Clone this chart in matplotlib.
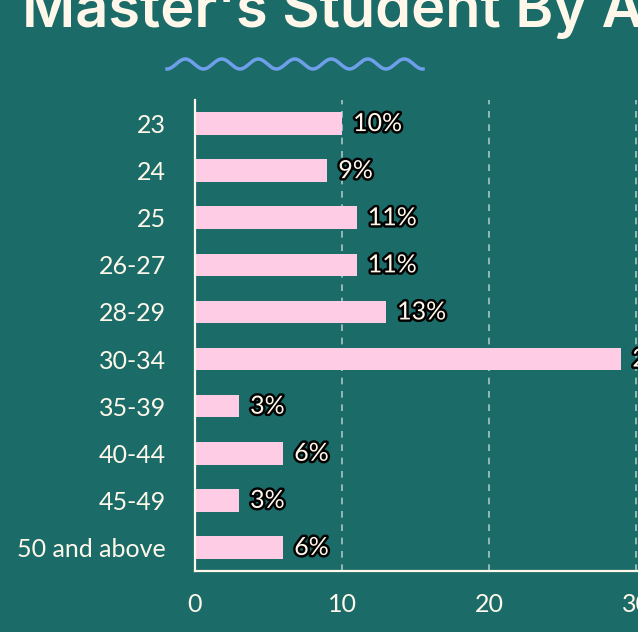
import matplotlib
matplotlib.use("Agg")
import matplotlib.pyplot as plt
import matplotlib.patheffects as pe
import numpy as np

categories = ["23", "24", "25", "26-27", "28-29", "30-34", "35-39", "40-44", "45-49", "50 and above"]
values = [10, 9, 11, 11, 13, 29, 3, 6, 3, 6]
xticks = [0, 10, 20, 30]
title = "Master's Student By Age"

BG = "#1B6C68"
PINK = "#FFCCE5"
CREAM = "#FFF8EA"

W, H = 638, 632
fig = plt.figure(figsize=(W / 100, H / 100), dpi=100, facecolor=BG)

# axes in pixel coordinates: left 195, right extends beyond the figure
left, top, bottom = 195, 100, 571
xmax = 32
px_per_unit = (636 - 195) / 30
right = left + xmax * px_per_unit
ax = fig.add_axes([left / W, 1 - bottom / H, (right - left) / W, (bottom - top) / H])
ax.set_facecolor(BG)

y = np.arange(len(categories))
ax.barh(y, values, height=0.48, color=PINK, zorder=3)
ax.set_ylim(len(categories) - 0.5, -0.5)
ax.set_xlim(0, xmax)
ax.set_yticks(y)
ax.set_yticklabels(categories)
ax.set_xticks(xticks)
ax.set_xticklabels([str(t) for t in xticks])
ax.tick_params(axis="both", length=0, colors=CREAM, labelsize=18)
ax.tick_params(axis="y", pad=21)
ax.tick_params(axis="x", pad=16)
for lbl in ax.get_xticklabels() + ax.get_yticklabels():
    lbl.set_fontfamily("Lato")
    lbl.set_color(CREAM)

for s in ["top", "right"]:
    ax.spines[s].set_visible(False)
for s in ["left", "bottom"]:
    ax.spines[s].set_color(CREAM)
    ax.spines[s].set_linewidth(1.6)
    ax.spines[s].set_zorder(4)

ax.grid(axis="x", color="#A9C6C3", linestyle=(0, (4, 4)), linewidth=1.2, zorder=1)
ax.grid(axis="y", visible=False)

for yi, v in zip(y, values):
    ax.text(v + 0.75, yi, f"{v}%", va="center", ha="left", fontsize=18,
            fontfamily="Lato", color=CREAM, zorder=5,
            path_effects=[pe.withStroke(linewidth=3.5, foreground="black")])

# title
fig.text(22 / W, 1 - 27 / H, title, ha="left", va="baseline", fontsize=41.5,
         fontweight="semibold", fontfamily="Inter", color=CREAM)

# wavy decoration
xs = np.linspace(167, 423, 400)
ys = 64 + 5 * np.cos((xs - 167) / 36.5 * 2 * np.pi)
fig.add_artist(plt.Line2D(xs / W, 1 - ys / H, color="#6F9FEA", linewidth=2.5,
                          transform=fig.transFigure))

fig.savefig("out.png", dpi=100, facecolor=BG)
